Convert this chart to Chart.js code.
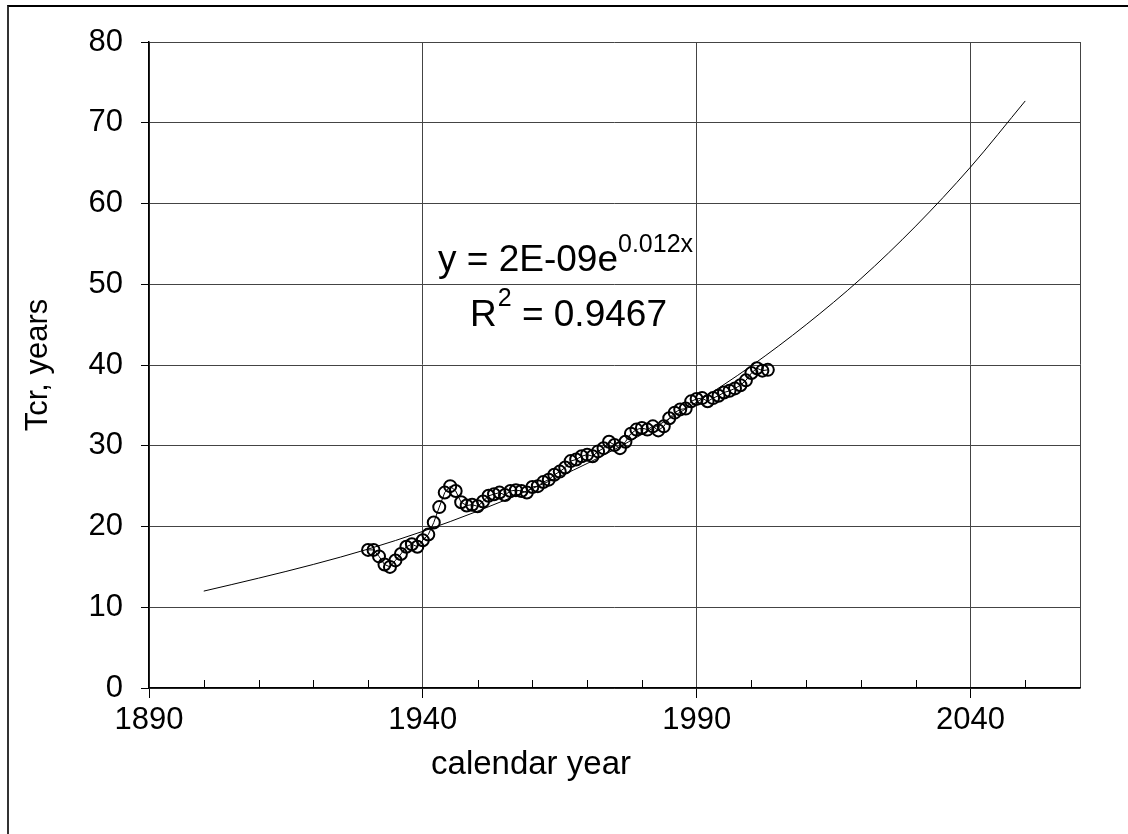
<!DOCTYPE html>
<html>
<head>
<meta charset="utf-8">
<title>Tcr, years</title>
<script src="https://cdn.jsdelivr.net/npm/chart.js@4.4.0/dist/chart.umd.min.js"></script>
<style>
  html, body { margin:0; padding:0; background:#fff; }
  .wrap { position:relative; width:1128px; height:834px; overflow:hidden; }
  .frame { position:absolute; left:7px; top:5px; width:1130px; height:860px; border-left:2px solid #333; border-top:2px solid #000; }
  canvas { position:absolute; left:0; top:0; }
</style>
</head>
<body>
<div class="wrap">
  <div class="frame"></div>
  <canvas id="tcr-chart" width="1128" height="834"></canvas>
</div>
<script>
// 관측값 (연도별 Tcr)
const years = [
  1930, 1931, 1932, 1933, 1934, 1935, 1936, 1937, 1938, 1939,
  1940, 1941, 1942, 1943, 1944, 1945, 1946, 1947, 1948, 1949,
  1950, 1951, 1952, 1953, 1954, 1955, 1956, 1957, 1958, 1959,
  1960, 1961, 1962, 1963, 1964, 1965, 1966, 1967, 1968, 1969,
  1970, 1971, 1972, 1973, 1974, 1975, 1976, 1977, 1978, 1979,
  1980, 1981, 1982, 1983, 1984, 1985, 1986, 1987, 1988, 1989,
  1990, 1991, 1992, 1993, 1994, 1995, 1996, 1997, 1998, 1999,
  2000, 2001, 2002, 2003
];
const tcr = [
  17.1, 17.1, 16.3, 15.3, 15.0, 15.8, 16.6, 17.5, 17.8, 17.5,
  18.3, 19.0, 20.5, 22.4, 24.2, 25.0, 24.4, 23.0, 22.6, 22.7,
  22.5, 23.1, 23.8, 24.0, 24.2, 23.9, 24.4, 24.5, 24.4, 24.2,
  24.9, 25.0, 25.5, 25.8, 26.4, 26.8, 27.3, 28.1, 28.3, 28.7,
  28.9, 28.7, 29.3, 29.7, 30.5, 30.1, 29.7, 30.5, 31.5, 32.0,
  32.2, 32.0, 32.4, 31.9, 32.4, 33.4, 34.1, 34.5, 34.6, 35.5,
  35.8, 35.9, 35.5, 35.9, 36.2, 36.6, 36.8, 37.1, 37.5, 38.1,
  39.0, 39.6, 39.3, 39.4
];

// 추세선
const trendYears = [1900, 1910, 1920, 1930, 1940, 1950, 1960, 1970, 1980, 1990, 2000, 2010, 2020, 2030, 2040, 2050];
const trendTcr = [12.0, 13.6, 15.3, 17.2, 19.4, 21.9, 24.7, 27.8, 31.4, 35.4, 39.9, 45.0, 50.7, 57.2, 64.5, 72.7];

// 축 눈금
const xLabels = [1890, 1940, 1990, 2040];
const xMin = 1890, xMax = 2060, xStep = 10;
const yMin = 0, yMax = 80, yStep = 10;

const FONT = "'Liberation Sans', Arial, sans-serif";
Chart.defaults.font.family = FONT;
Chart.defaults.color = '#000';

function isMajor(v){ return xLabels.includes(v); }

// 보조눈금 + 수식 + x축 제목
const extras = {
  id: 'extras',
  afterDraw(chart){
    const ctx = chart.ctx;
    const x = chart.scales.x;
    const area = chart.chartArea;
    ctx.save();
    ctx.strokeStyle = '#000';
    ctx.lineWidth = 1;
    x.ticks.forEach(t => {
      if (!isMajor(t.value) && t.value < xMax) {
        const px = Math.round(x.getPixelForValue(t.value)) + 0.5;
        ctx.beginPath();
        ctx.moveTo(px, area.bottom);
        ctx.lineTo(px, area.bottom - 8);
        ctx.stroke();
      }
    });

    ctx.fillStyle = '#000';
    ctx.textBaseline = 'alphabetic';
    ctx.textAlign = 'left';
    ctx.font = '37px ' + FONT;
    const eq = 'y = 2E-09e';
    ctx.fillText(eq, 438, 271);
    const w1 = ctx.measureText(eq).width;
    ctx.font = '25px ' + FONT;
    ctx.fillText('0.012x', 438 + w1, 252);

    ctx.font = '37px ' + FONT;
    ctx.fillText('R', 470, 326);
    const wR = ctx.measureText('R').width;
    ctx.font = '25px ' + FONT;
    ctx.fillText('2', 470 + wR + 1, 306);
    const w2 = ctx.measureText('2').width;
    ctx.font = '37px ' + FONT;
    ctx.fillText(' = 0.9467', 470 + wR + w2 + 1, 326);

    ctx.font = '33px ' + FONT;
    ctx.textAlign = 'center';
    ctx.textBaseline = 'middle';
    ctx.fillText('calendar year', 531, 765);
    ctx.restore();
  }
};

const content = document.getElementById('tcr-chart');

new Chart(content, {
  data: {
    datasets: [
      {
        type: 'scatter',
        label: 'Tcr',
        data: years.map((yr, i) => ({x: yr, y: tcr[i]})),
        showLine: true,
        borderColor: '#000',
        borderWidth: 1,
        pointRadius: 6,
        pointBorderWidth: 2,
        pointBorderColor: '#000',
        pointBackgroundColor: 'rgba(0,0,0,0)'
      },
      {
        type: 'scatter',
        label: 'trend',
        data: trendYears.map((yr, i) => ({x: yr, y: trendTcr[i]})),
        showLine: true,
        borderColor: '#000',
        borderWidth: 1,
        pointRadius: 0,
        cubicInterpolationMode: 'monotone'
      }
    ]
  },
  options: {
    responsive: false,
    animation: false,
    layout: { padding: { top: 42, right: 48, left: 0, bottom: 0 } },
    plugins: {
      legend: { display: false },
      tooltip: { enabled: false }
    },
    scales: {
      x: {
        type: 'linear',
        min: xMin,
        max: xMax,
        afterFit(scale){ scale.height = 146; },
        border: { color: '#000', width: 1.5 },
        grid: {
          color: c => (c.tick && (isMajor(c.tick.value) || c.tick.value === xMax)) ? '#444' : 'rgba(0,0,0,0)',
          tickColor: c => (c.tick && isMajor(c.tick.value)) ? '#000' : 'rgba(0,0,0,0)',
          tickLength: 10,
          lineWidth: 1
        },
        ticks: {
          stepSize: xStep,
          autoSkip: false,
          maxRotation: 0,
          padding: 4,
          font: { size: 31 },
          color: '#000',
          callback: v => isMajor(v) ? String(v) : ''
        }
      },
      y: {
        type: 'linear',
        min: yMin,
        max: yMax,
        afterFit(scale){ scale.width = 149; },
        border: { color: '#000', width: 1.5 },
        grid: {
          color: '#444',
          tickColor: '#000',
          tickLength: 8,
          lineWidth: 1
        },
        ticks: {
          stepSize: yStep,
          padding: 18,
          font: { size: 31 },
          color: '#000'
        },
        title: {
          display: true,
          text: 'Tcr, years',
          font: { size: 31 },
          color: '#000',
          padding: { top: 20, bottom: 0 }
        }
      }
    }
  },
  plugins: [extras]
});
</script>
</body>
</html>
